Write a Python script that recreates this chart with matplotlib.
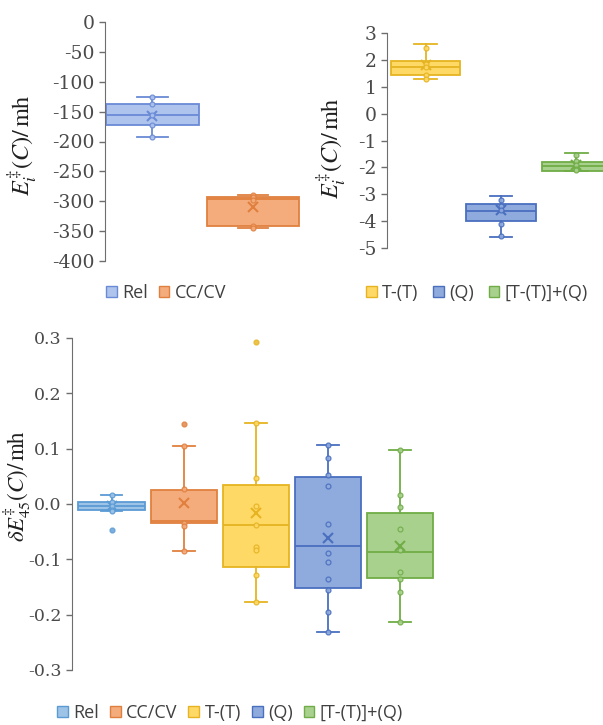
import matplotlib.pyplot as plt
from matplotlib.patches import Patch

plt.rcParams['mathtext.fontset'] = 'stix'
plt.rcParams['axes.unicode_minus'] = False

# ---- data ----
# top left: total correlation energy, mh
tl_names = ['Rel', 'CC/CV']
tl_q1 = [-173, -341]
tl_med = [-155, -296]
tl_q3 = [-137, -293]
tl_lo = [-192, -345]
tl_hi = [-125, -289]
tl_mean = [-157, -309]
tl_points = [[-125, -137, -155, -173, -192],
             [-289, -293, -298, -341, -345]]

# top right
tr_names = ['T-(T)', '(Q)', '[T-(T)]+(Q)']
tr_q1 = [1.44, -4.0, -2.12]
tr_med = [1.75, -3.62, -1.95]
tr_q3 = [1.96, -3.36, -1.8]
tr_lo = [1.28, -4.6, -2.15]
tr_hi = [2.6, -3.05, -1.45]
tr_mean = [1.8, -3.6, -1.9]
tr_points = [[2.45, 1.85, 1.75, 1.45, 1.3],
             [-3.2, -3.45, -3.6, -4.1, -4.55],
             [-1.55, -1.75, -1.9, -2.05, -2.1]]

# bottom: deviations
b_names = ['Rel', 'CC/CV', 'T-(T)', '(Q)', '[T-(T)]+(Q)']
b_q1 = [-0.010, -0.034, -0.114, -0.151, -0.134]
b_med = [-0.003, -0.030, -0.038, -0.075, -0.087]
b_q3 = [0.004, 0.025, 0.035, 0.048, -0.016]
b_lo = [-0.012, -0.085, -0.178, -0.232, -0.214]
b_hi = [0.016, 0.105, 0.147, 0.107, 0.098]
b_mean = [-0.003, 0.001, -0.017, -0.062, -0.075]
b_fliers = [[-0.047], [0.144], [0.293], [], []]
b_points = [[0.016, 0.004, -0.003, -0.010, -0.012],
            [0.105, 0.028, -0.035, -0.039, -0.085],
            [0.147, 0.047, -0.003, -0.038, -0.077, -0.084, -0.128, -0.178],
            [0.107, 0.083, 0.052, 0.032, -0.036, -0.089, -0.105, -0.135, -0.156, -0.195, -0.232],
            [0.098, 0.016, -0.006, -0.045, -0.084, -0.123, -0.135, -0.159, -0.214]]

fills = {'Rel': '#9DC3E6', 'CC/CV': '#F4AC7C', 'T-(T)': '#FFD966',
         '(Q)': '#8FAADC', '[T-(T)]+(Q)': '#A9D18E'}
edges = {'Rel': '#5B9BD5', 'CC/CV': '#E0803F', 'T-(T)': '#E6B422',
         '(Q)': '#4A6FBF', '[T-(T)]+(Q)': '#70AD47'}
rel_top_fill, rel_top_edge = '#AFC4EC', '#6A8AD6'

W, H = 603, 725


def box_panel(ax, names, q1, med, q3, lo, hi, mean, points, fliers=None, fill=None, edge=None, tsize=13.5):
    stats = []
    for i in range(len(names)):
        stats.append(dict(q1=q1[i], med=med[i], q3=q3[i], whislo=lo[i], whishi=hi[i],
                          mean=mean[i], fliers=fliers[i] if fliers else []))
    pos = list(range(1, len(names) + 1))
    bp = ax.bxp(stats, positions=pos, widths=0.92, patch_artist=True, showmeans=True,
                capwidths=0.3, manage_ticks=False)
    for i, n in enumerate(names):
        fc = fill[n] if fill else fills[n]
        ec = edge[n] if edge else edges[n]
        bp['boxes'][i].set(facecolor=fc, edgecolor=ec, linewidth=1.3)
        bp['medians'][i].set(color=ec, linewidth=1.3)
        for k in (2 * i, 2 * i + 1):
            bp['whiskers'][k].set(color=ec, linewidth=1.3)
            bp['caps'][k].set(color=ec, linewidth=1.3)
        bp['means'][i].set(marker='x', markeredgecolor=ec, markersize=7, markeredgewidth=1.5)
        bp['fliers'][i].set(marker='o', markerfacecolor=ec, markeredgecolor=ec, markersize=3.5, alpha=0.8)
        ax.plot([pos[i]] * len(points[i]), points[i], 'o', ms=3.5, mfc=fc, mec=ec, mew=0.9,
                alpha=0.9, zorder=4)
    for s in ['top', 'right', 'bottom']:
        ax.spines[s].set_visible(False)
    ax.spines['left'].set_color('#6e6e6e')
    ax.set_xticks([])
    ax.tick_params(axis='y', colors='#6e6e6e', labelcolor='#4a4a4a', length=4, width=1)
    for lab in ax.get_yticklabels():
        lab.set_fontfamily('DejaVu Serif')
        lab.set_fontsize(tsize)


def legend(names, fill_map, edge_map, x, y, colsp):
    handles = [Patch(facecolor=fill_map[n], edgecolor=edge_map[n], label=n) for n in names]
    fig.legend(handles=handles, loc='center', bbox_to_anchor=(x / W, 1 - y / H), ncol=len(names),
               frameon=False, handlelength=0.6, handleheight=0.6, handletextpad=0.3,
               columnspacing=colsp, prop={'family': 'Open Sans', 'size': 13}, labelcolor='#404040')


fig = plt.figure(figsize=(6.03, 7.25), dpi=100)


def axes_px(x0, x1, y0, y1):
    return fig.add_axes([x0 / W, 1 - y1 / H, (x1 - x0) / W, (y1 - y0) / H])


def ylabel_px(ax, text, x_right, y_mid, x0, x1, y0, y1, size):
    ax.set_ylabel(text, fontsize=size, color='#202020')
    ax.yaxis.set_label_coords((x_right - x0) / (x1 - x0), (y1 - y_mid) / (y1 - y0))


# top left
ax1 = axes_px(105, 303, 22, 261)
ax1.set_ylim(-400, 0)
ax1.set_yticks(range(-400, 1, 50))
ax1.set_xlim(0.527, 2.5)
tl_fill = dict(fills, Rel=rel_top_fill)
tl_edge = dict(edges, Rel=rel_top_edge)
box_panel(ax1, tl_names, tl_q1, tl_med, tl_q3, tl_lo, tl_hi, tl_mean, tl_points, fill=tl_fill, edge=tl_edge)
ylabel_px(ax1, r'$E_i^{\ddagger}(C)/\,\mathrm{mh}$', 39, 145, 105, 303, 22, 261, 17.5)
legend(tl_names, tl_fill, tl_edge, 166, 293, 0.6)

# top right
ax2 = axes_px(387, 614, 33, 248)
ax2.set_ylim(-5, 3)
ax2.set_yticks(range(-5, 4))
ax2.set_xlim(0.487, 3.5)
box_panel(ax2, tr_names, tr_q1, tr_med, tr_q3, tr_lo, tr_hi, tr_mean, tr_points)
ylabel_px(ax2, r'$E_i^{\ddagger}(C)/\,\mathrm{mh}$', 348, 148, 387, 614, 33, 248, 17.5)
legend(tr_names, fills, edges, 477, 293, 0.8)

# bottom
ax3 = axes_px(72, 436, 338, 670)
ax3.set_ylim(-0.3, 0.3)
ax3.set_yticks([-0.3, -0.2, -0.1, 0.0, 0.1, 0.2, 0.3])
ax3.set_yticklabels(['-0.3', '-0.2', '-0.1', '0.0', '0.1', '0.2', '0.3'])
ax3.set_xlim(0.45, 5.5)
box_panel(ax3, b_names, b_q1, b_med, b_q3, b_lo, b_hi, b_mean, b_points, fliers=b_fliers, tsize=12.5)
ylabel_px(ax3, r'$\delta E_{45}^{\ddagger}(C)/\,\mathrm{mh}$', 33, 486, 72, 436, 338, 670, 16.5)
legend(b_names, fills, edges, 230, 713, 0.6)

fig.savefig('out.png', dpi=100)
